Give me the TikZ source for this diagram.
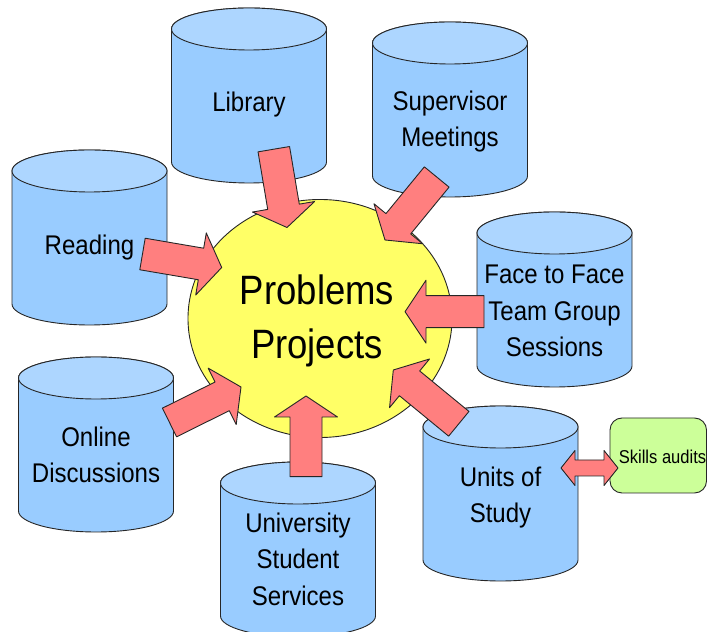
\documentclass[tikz,border=0pt]{standalone}
\usepackage{fontspec}
\usetikzlibrary{calc}
\newfontfamily\labelfont{Liberation Sans}[FakeStretch=0.89]

\definecolor{cylbody}{HTML}{99CCFF}
\definecolor{cyltop}{HTML}{ADD6FF}
\definecolor{hubyellow}{HTML}{FFFF66}
\definecolor{arrowred}{HTML}{FF7F7F}
\definecolor{auditgreen}{HTML}{CCFF99}
\definecolor{edge}{HTML}{262626}

\tikzset{
  outline/.style={draw=edge, line width=0.9pt, line join=round},
  cylside/.style={outline, fill=cylbody},
  cyltopface/.style={outline, fill=cyltop},
  cyltext/.style={font=\labelfont\fontsize{27}{36.5}\selectfont, align=center, inner sep=0pt},
  hub/.style={outline, fill=hubyellow, ellipse},
  hubtext/.style={font=\labelfont\fontsize{41}{54}\selectfont, align=center, inner sep=0pt},
  blockarrow/.style={outline, fill=arrowred},
  auditbox/.style={outline, fill=auditgreen, rounded corners=12pt},
  audittext/.style={font=\labelfont\fontsize{18.6}{22}\selectfont, inner sep=0pt},
}

% cylinder: #1 node name, #2 centre x, #3 y of top face centre, #4 y of label, #5 label
\newcommand\drumnode[5]{%
  \begin{scope}[shift={(#2,#3)}]
    \path[cylside] (-77.5,0) -- (-77.5,-133)
      arc[start angle=180, end angle=360, x radius=77.5, y radius=21]
      -- (77.5,0)
      arc[start angle=0, end angle=180, x radius=77.5, y radius=21] -- cycle;
    \path[cyltopface] (0,0) ellipse[x radius=77.5, y radius=21];
  \end{scope}
  \node[cyltext] (#1) at (#2,#4) {#5};
}

% block arrow from tail coordinate #1 to tip coordinate #2
\newcommand\blockarr[2]{%
  \coordinate (ba-h) at ($(#2)!21pt!(#1)$);
  \path[blockarrow]
    ($(#1)!16pt!90:(#2)$) -- ($(ba-h)!16pt!90:(#2)$) -- ($(ba-h)!31.5pt!90:(#2)$)
    -- (#2)
    -- ($(ba-h)!31.5pt!-90:(#2)$) -- ($(ba-h)!16pt!-90:(#2)$) -- ($(#1)!16pt!-90:(#2)$)
    -- cycle;
}

\begin{document}
\begin{tikzpicture}[x=1pt, y=1pt]
  \useasboundingbox (0,0) rectangle (708,631);

  % sources of support
  \drumnode{lib}{249}{602}{526}{Library}
  \drumnode{sup}{450}{588}{509.5}{Supervisor\\Meetings}
  \drumnode{read}{89.5}{460}{383}{Reading}
  \drumnode{f2f}{554.5}{398}{320}{Face to Face\\Team Group\\Sessions}
  \drumnode{units}{500.5}{204}{133.5}{Units of\\Study}
  \drumnode{uss}{298}{148}{72}{University\\Student\\Services}
  \drumnode{online}{96}{253}{176}{Online\\Discussions}

  % central hub
  \path[outline, fill=hubyellow] (320,312.5) ellipse[x radius=132, y radius=119];
  \node[hubtext] (pp) at (317,310) {Problems\\Projects};

  % arrow end points
  \coordinate (lib-t) at (273.8,481.8);  \coordinate (lib-h) at (287,403.5);
  \coordinate (sup-t) at (436.7,454);    \coordinate (sup-h) at (385,391);
  \coordinate (read-t) at (142.5,377);   \coordinate (read-h) at (221.7,363.5);
  \coordinate (f2f-t) at (484,319.3);    \coordinate (f2f-h) at (405,319.3);
  \coordinate (units-t) at (458.8,207.2);\coordinate (units-h) at (393.3,261);
  \coordinate (uss-t) at (306,154.3);    \coordinate (uss-h) at (306,235);
  \coordinate (online-t) at (169.5,208.5);\coordinate (online-h) at (241,244);

  \blockarr{lib-t}{lib-h}
  \blockarr{sup-t}{sup-h}
  \blockarr{read-t}{read-h}
  \blockarr{f2f-t}{f2f-h}
  \blockarr{units-t}{units-h}
  \blockarr{uss-t}{uss-h}
  \blockarr{online-t}{online-h}

  % skills audits
  \path[auditbox] (610,138) rectangle (706.5,213);
  \node[audittext] (skills) at (662.5,174) {Skills audits};

  % two-headed link between units and audits
  \coordinate (da-l) at (561,163);
  \coordinate (da-r) at (618,163);
  \path[blockarrow] (da-l) -- ($(da-l)+(14,17.5)$) -- ($(da-l)+(14,8)$)
    -- ($(da-r)+(-14,8)$) -- ($(da-r)+(-14,17.5)$) -- (da-r)
    -- ($(da-r)+(-14,-17.5)$) -- ($(da-r)+(-14,-8)$)
    -- ($(da-l)+(14,-8)$) -- ($(da-l)+(14,-17.5)$) -- cycle;
\end{tikzpicture}
\end{document}
